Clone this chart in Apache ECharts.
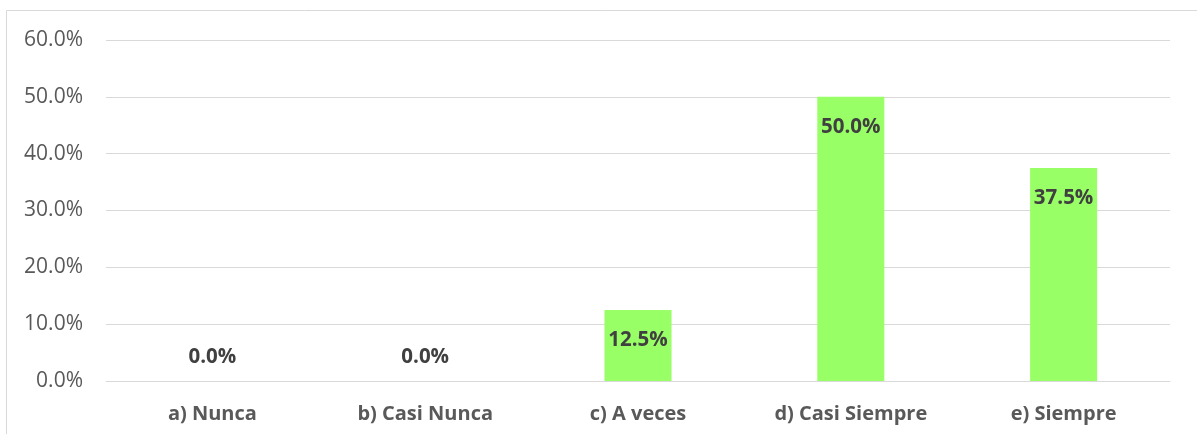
<!DOCTYPE html>
<html>
<head>
<meta charset="utf-8">
<script src="https://cdn.jsdelivr.net/npm/echarts@6/dist/echarts.min.js"></script>
<style>
html,body{margin:0;padding:0;background:#fff;}
#chart{width:1197px;height:434px;}
</style>
</head>
<body>
<div id="chart"></div>
<script>
const categories = ['a) Nunca', 'b) Casi Nunca', 'c) A veces', 'd) Casi Siempre', 'e) Siempre'];
const values = [0, 0, 12.5, 50, 37.5];
const yTicks = { min: 0, max: 60, interval: 10 };

const chart = echarts.init(document.getElementById('chart'));
const FONT = 'Open Sans';
chart.setOption({
  animation: false,
  graphic: [{
    type: 'rect',
    shape: { x: 6.5, y: 10.5, width: 1400, height: 600 },
    style: { fill: 'none', stroke: '#D9D9D9', lineWidth: 1 },
    silent: true
  }],
  grid: { left: 106, right: 27, top: 40, bottom: 53 },
  xAxis: {
    type: 'category',
    data: categories,
    axisLine: { show: true, lineStyle: { color: '#D9D9D9', width: 1 } },
    axisTick: { show: false },
    axisLabel: { color: '#595959', fontFamily: FONT, fontWeight: 'bold', fontSize: 20, margin: 23 }
  },
  yAxis: {
    type: 'value',
    min: yTicks.min, max: yTicks.max, interval: yTicks.interval,
    axisLine: { show: false },
    axisTick: { show: false },
    splitLine: { lineStyle: { color: '#D9D9D9', width: 1 } },
    axisLabel: {
      color: '#595959', fontFamily: FONT, fontSize: 21, margin: 23,
      formatter: v => v.toFixed(1) + '%'
    }
  },
  series: [{
    type: 'bar',
    barWidth: '31.5%',
    itemStyle: { color: '#99FF66' },
    label: {
      show: true,
      position: 'insideTop',
      distance: 20,
      color: '#404040',
      fontFamily: FONT,
      fontWeight: 'bold',
      fontSize: 20.5,
      formatter: p => p.value.toFixed(1) + '%'
    },
    data: values.map(v => v === 0
      ? { value: v, label: { position: 'top', distance: 13 } }
      : v)
  }]
});
</script>
</body>
</html>
